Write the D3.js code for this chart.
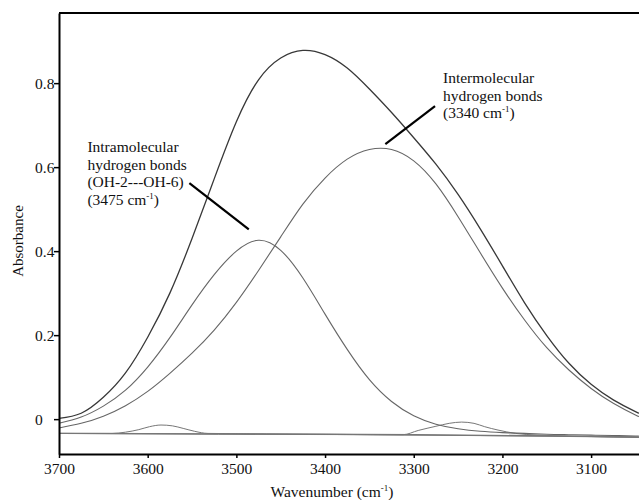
<!DOCTYPE html>
<html>
<head>
<meta charset="utf-8">
<script src="https://cdn.jsdelivr.net/npm/d3@7"></script>
<style>
body { margin: 0; background: #fff; }
svg { display: block; }
text { font-family: "Liberation Serif", "Times New Roman", serif; fill: #111; }
</style>
</head>
<body>
<div id="chart"></div>
<script>
// values
var wavenumbers = [3700,3675,3650,3625,3600,3575,3550,3525,3500,3475,3450,3425,3400,3375,3350,3325,3300,3275,3250,3225,3200,3175,3150,3125,3100,3075,3050,3046];
var total = [0.002,0.014,0.052,0.110,0.195,0.300,0.430,0.572,0.708,0.808,0.860,0.878,0.868,0.836,0.786,0.730,0.670,0.607,0.535,0.453,0.365,0.277,0.199,0.133,0.083,0.046,0.018,0.015];
var intermolecular = [-0.021,-0.010,0.007,0.032,0.066,0.109,0.157,0.212,0.278,0.354,0.434,0.512,0.574,0.619,0.642,0.642,0.615,0.560,0.482,0.396,0.312,0.236,0.170,0.117,0.073,0.038,0.010,0.007];
var intramolecular = [-0.010,0.005,0.031,0.069,0.124,0.194,0.272,0.344,0.400,0.426,0.402,0.336,0.250,0.166,0.094,0.042,0.008,-0.012,-0.023,-0.029,-0.032,-0.034,-0.036,-0.037,-0.038,-0.039,-0.040,-0.040];

var baseWn = [3700,3500,3300,3100,3046];
var baseVals = [-0.034,-0.035,-0.037,-0.041,-0.043];

var peak1Wn = [3700,3640,3625,3610,3598,3585,3572,3560,3547,3532,3400,3046];
var peak1Vals = [-0.034,-0.034,-0.031,-0.025,-0.018,-0.014,-0.016,-0.022,-0.029,-0.034,-0.036,-0.043];

var peak2Wn = [3700,3340,3312,3295,3275,3260,3246,3232,3220,3205,3185,3160,3046];
var peak2Vals = [-0.034,-0.037,-0.037,-0.027,-0.017,-0.010,-0.007,-0.010,-0.018,-0.026,-0.034,-0.038,-0.043];

var xTicks = [3700,3600,3500,3400,3300,3200,3100];
var yTicks = [0,0.2,0.4,0.6,0.8];

var intraLabel = ["Intramolecular", "hydrogen bonds", "(OH-2---OH-6)", "(3475 cm"];
var interLabel = ["Intermolecular", "hydrogen bonds", "(3340 cm"];

var w = 639;
var h = 500;

var x = d3.scaleLinear().domain([3700, 3046]).range([59, 639]);
var y = d3.scaleLinear().domain([-0.083, 0.967]).range([454, 13]);

var svg = d3.select("#chart")
  .append("svg")
  .attr("width", w)
  .attr("height", h);

function series(wn, vals){
  return wn.map((d,i)=> [d, vals[i]]);
}

var smooth = d3.line()
  .x(d=> x(d[0]))
  .y(d=> y(d[1]))
  .curve(d3.curveNatural);

var bump = d3.line()
  .x(d=> x(d[0]))
  .y(d=> y(d[1]))
  .curve(d3.curveMonotoneX);

var straight = d3.line()
  .x(d=> x(d[0]))
  .y(d=> y(d[1]));

//baseline and small bands
svg.append("path")
  .attr("d", straight(series(baseWn, baseVals)))
  .attr("fill", "none")
  .attr("stroke", "#777")
  .attr("stroke-width", 1.4);

[[peak1Wn, peak1Vals],[peak2Wn, peak2Vals]].forEach((p)=>{
  svg.append("path")
    .attr("d", bump(series(p[0], p[1])))
    .attr("fill", "none")
    .attr("stroke", "#777")
    .attr("stroke-width", 1);
})

//fitted components
svg.append("path")
  .attr("d", smooth(series(wavenumbers, intramolecular)))
  .attr("fill", "none")
  .attr("stroke", "#666")
  .attr("stroke-width", 1.1);

svg.append("path")
  .attr("d", smooth(series(wavenumbers, intermolecular)))
  .attr("fill", "none")
  .attr("stroke", "#666")
  .attr("stroke-width", 1.1);

//measured spectrum
svg.append("path")
  .attr("d", smooth(series(wavenumbers, total)))
  .attr("fill", "none")
  .attr("stroke", "#383838")
  .attr("stroke-width", 1.3);

//axes
var xAxis = d3.axisBottom(x)
  .tickValues(xTicks)
  .tickSize(4)
  .tickSizeOuter(0)
  .tickPadding(5)
  .tickFormat(d3.format("d"));

var gx = svg.append("g")
  .attr("transform", "translate(0," + y.range()[0] + ")")
  .call(xAxis);

var yAxis = d3.axisLeft(y)
  .tickValues(yTicks)
  .tickSize(5)
  .tickSizeOuter(0)
  .tickFormat(d=> d === 0 ? "0" : d3.format(".1f")(d));

var gy = svg.append("g")
  .attr("transform", "translate(" + x.range()[0] + ",0)")
  .call(yAxis);

gy.selectAll("text")
  .attr("text-anchor", "start")
  .attr("x", -24);

[gx, gy].forEach((g)=>{
  g.select(".domain").attr("stroke", "#000").attr("stroke-width", 2);
  g.selectAll(".tick line").attr("stroke", "#000").attr("stroke-width", 1.5);
  g.selectAll("text")
    .style("font-family", "'Liberation Serif', 'Times New Roman', serif")
    .style("font-size", "15.5px")
    .attr("fill", "#111");
})

//top frame line
svg.append("line")
  .attr("x1", x.range()[0])
  .attr("x2", x.range()[1])
  .attr("y1", y.range()[1])
  .attr("y2", y.range()[1])
  .attr("stroke", "#000")
  .attr("stroke-width", 2);

//axis titles
var xt = svg.append("text")
  .attr("x", 332)
  .attr("y", 497)
  .attr("text-anchor", "middle")
  .style("font-size", "15.5px")
  .text("Wavenumber (cm");
xt.append("tspan").attr("dy", -6).style("font-size", "9px").text("-1");
xt.append("tspan").attr("dy", 6).text(")");

svg.append("text")
  .attr("transform", "translate(23,241) rotate(-90)")
  .attr("text-anchor", "middle")
  .style("font-size", "15px")
  .text("Absorbance");

//annotations
function label(lines, wn, a){
  var t = svg.append("text")
    .attr("x", x(wn))
    .attr("y", y(a))
    .style("font-size", "15.5px");
  lines.forEach((s,i)=>{
    t.append("tspan")
      .attr("x", x(wn))
      .attr("dy", i === 0 ? 0 : 17.5)
      .text(s);
  })
  t.append("tspan").attr("dy", -6).style("font-size", "9px").text("-1");
  t.append("tspan").attr("dy", 6).text(")");
}

label(intraLabel, 3668, 0.636);
label(interLabel, 3267, 0.8);

var leaders = [
  [[3553, 0.562], [3486, 0.452]],
  [[3332, 0.655], [3276, 0.745]]
];

svg.selectAll(".leader")
  .data(leaders)
  .enter()
  .append("line")
  .attr("class", "leader")
  .attr("x1", d=> x(d[0][0]))
  .attr("y1", d=> y(d[0][1]))
  .attr("x2", d=> x(d[1][0]))
  .attr("y2", d=> y(d[1][1]))
  .attr("stroke", "#000")
  .attr("stroke-width", 2.2);
</script>
</body>
</html>
